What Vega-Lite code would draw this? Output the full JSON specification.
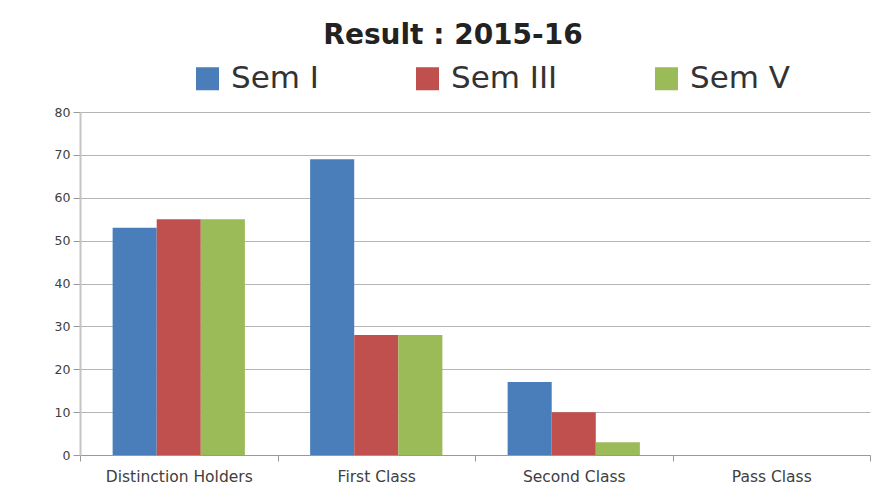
{
  "$schema": "https://vega.github.io/schema/vega-lite/v6.json",
  "width": 790,
  "height": 343,
  "autosize": {"type": "none"},
  "padding": {"left": 80, "top": 112, "right": 11, "bottom": 38},
  "background": "white",
  "title": {
    "text": "Result : 2015-16",
    "font": "DejaVu Sans",
    "fontSize": 28,
    "fontWeight": "bold",
    "color": "#222222",
    "anchor": "middle",
    "dx": -22,
    "offset": 13
  },
  "data": {
    "values": [
      {"category": "Distinction Holders", "sem": "Sem I", "value": 53},
      {"category": "Distinction Holders", "sem": "Sem III", "value": 55},
      {"category": "Distinction Holders", "sem": "Sem V", "value": 55},
      {"category": "First Class", "sem": "Sem I", "value": 69},
      {"category": "First Class", "sem": "Sem III", "value": 28},
      {"category": "First Class", "sem": "Sem V", "value": 28},
      {"category": "Second Class", "sem": "Sem I", "value": 17},
      {"category": "Second Class", "sem": "Sem III", "value": 10},
      {"category": "Second Class", "sem": "Sem V", "value": 3},
      {"category": "Pass Class", "sem": "Sem I", "value": 0},
      {"category": "Pass Class", "sem": "Sem III", "value": 0},
      {"category": "Pass Class", "sem": "Sem V", "value": 0}
    ]
  },
  "mark": {"type": "bar"},
  "encoding": {
    "x": {
      "field": "category",
      "type": "nominal",
      "sort": ["Distinction Holders", "First Class", "Second Class", "Pass Class"],
      "scale": {"paddingInner": 0, "paddingOuter": 0},
      "axis": {
        "title": null,
        "labelAngle": 0,
        "labelFont": "DejaVu Sans",
        "labelFontSize": 15.5,
        "labelColor": "#404040",
        "labelPadding": 8,
        "tickBand": "extent",
        "tickSize": 6,
        "tickColor": "#999999",
        "domainColor": "#999999",
        "grid": false
      }
    },
    "xOffset": {
      "field": "sem",
      "type": "nominal",
      "scale": {"paddingInner": 0, "paddingOuter": 0.74}
    },
    "y": {
      "field": "value",
      "type": "quantitative",
      "scale": {"domain": [0, 80]},
      "axis": {
        "title": null,
        "values": [0, 10, 20, 30, 40, 50, 60, 70, 80],
        "labelFont": "DejaVu Sans",
        "labelFontSize": 12.5,
        "labelColor": "#404040",
        "labelPadding": 3,
        "tickSize": 7,
        "tickColor": "#999999",
        "domainColor": "#c4c4c4",
        "domainWidth": 2,
        "gridColor": "#b5b5b5",
        "gridWidth": 1
      }
    },
    "color": {
      "field": "sem",
      "type": "nominal",
      "scale": {"domain": ["Sem I", "Sem III", "Sem V"], "range": ["#4a7ebb", "#c0504d", "#9bbb59"]},
      "legend": {
        "title": null,
        "orient": "none",
        "legendX": 112,
        "legendY": -49,
        "direction": "horizontal",
        "symbolType": "square",
        "symbolSize": 530,
        "symbolStrokeWidth": 0,
        "labelFont": "DejaVu Sans",
        "labelFontSize": 31,
        "labelColor": "#333333",
        "labelOffset": 8,
        "columnPadding": 93
      }
    }
  },
  "config": {
    "view": {"stroke": null}
  }
}
